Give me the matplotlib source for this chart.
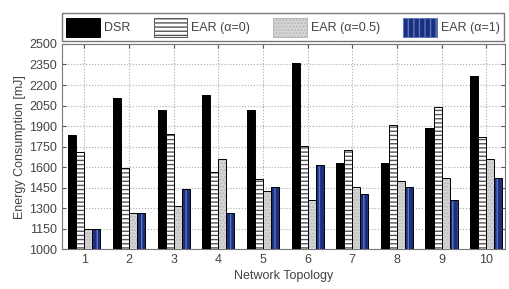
import numpy as np
import matplotlib.pyplot as plt
from matplotlib.patches import Patch

plt.rcParams['font.family'] = ['Liberation Sans', 'DejaVu Sans']

# Data
topologies = [1, 2, 3, 4, 5, 6, 7, 8, 9, 10]
dsr = [1835, 2108, 2018, 2127, 2018, 2361, 1633, 1633, 1889, 2269]
ear_0 = [1709, 1592, 1840, 1567, 1511, 1755, 1728, 1911, 2042, 1823]
ear_05 = [1146, 1268, 1317, 1660, 1429, 1360, 1455, 1499, 1524, 1660]
ear_1 = [1146, 1268, 1441, 1263, 1453, 1614, 1402, 1455, 1360, 1524]
labels = ['DSR', 'EAR (\u03b1=0)', 'EAR (\u03b1=0.5)', 'EAR (\u03b1=1)']

series = [dsr, ear_0, ear_05, ear_1]
faces = ['black', 'white', '#d6d6d6', '#1b2f7c']
hatches = [None, '----', '.....', '|||']
hatch_cols = ['black', '#555555', '#b8b8b8', '#5a78c0']

fig = plt.figure(figsize=(5.09, 2.89), dpi=100)
ax = fig.add_axes([0.122, 0.137, 0.870, 0.711])

x = np.array(topologies)
w = 0.18
handles = []
for i, vals in enumerate(series):
    pos = x + (i - 1.5) * w
    # hatched fill, then a black outline on top
    ax.bar(pos, np.array(vals) - 1000, w, bottom=1000, color=faces[i],
           hatch=hatches[i], edgecolor=hatch_cols[i], linewidth=0, zorder=3)
    ax.bar(pos, np.array(vals) - 1000, w, bottom=1000, fill=False,
           edgecolor='black', linewidth=0.7, zorder=4)
    handles.append(Patch(facecolor=faces[i], hatch=hatches[i],
                         edgecolor=hatch_cols[i] if i else 'black', linewidth=0.7))

ax.set_xlim(0.5, 10.42)
ax.set_ylim(1000, 2500)
ax.set_xticks(topologies)
ax.set_yticks(np.arange(1000, 2501, 150))
ax.tick_params(direction='in', top=True, right=True, labelsize=9,
               labelcolor='#444444', color='#555555', length=3)
ax.grid(True, linestyle=':', color='#aaaaaa', linewidth=0.8, zorder=0)
for s in ax.spines.values():
    s.set_color('#777777')

ax.set_xlabel('Network Topology', fontsize=9, color='#444444', labelpad=3)
ax.set_ylabel('Energy Consumption [mJ]', fontsize=9, color='#444444', labelpad=2)

leg = fig.legend(handles, labels, ncol=4, loc='lower left',
                 bbox_to_anchor=(0.122, 0.857, 0.868, 0.1), mode='expand',
                 fontsize=9, handlelength=2.7, handleheight=2.0,
                 handletextpad=0.3, columnspacing=0.8, borderpad=0.35,
                 fancybox=False, framealpha=1, edgecolor='#777777',
                 borderaxespad=0)
for t in leg.get_texts():
    t.set_color('#444444')

fig.savefig('out.png', dpi=100)
